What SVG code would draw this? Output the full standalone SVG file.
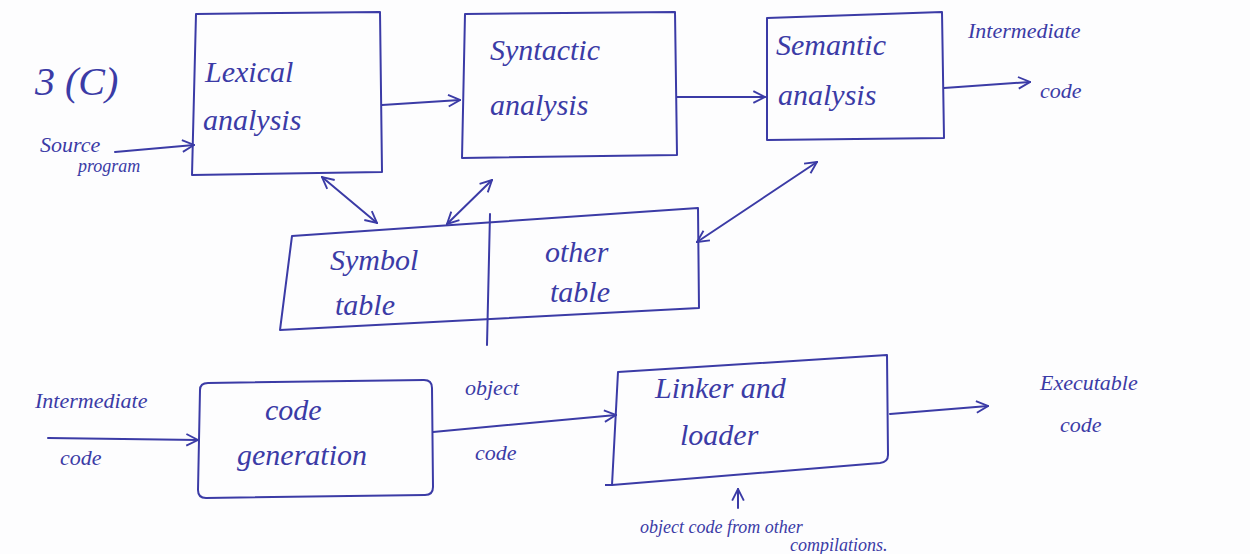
<svg xmlns="http://www.w3.org/2000/svg" width="1250" height="554" viewBox="0 0 1250 554">
<style>
.box{fill:none;stroke:#3b3ba6;stroke-width:2;stroke-linejoin:round}
.ln{fill:none;stroke:#3b3ba6;stroke-width:2;stroke-linecap:round}
text{font-family:"Liberation Serif",serif;font-style:italic;fill:#3b3ba6;font-size:30px}
.sm{font-size:22px}
.xs{font-size:18px}
</style>
<defs>
<marker id="ah" viewBox="0 0 12 12" refX="11" refY="6" markerWidth="14" markerHeight="14" markerUnits="userSpaceOnUse" orient="auto-start-reverse">
<path d="M1,1 L11,6 L1,11" fill="none" stroke="#3b3ba6" stroke-width="1.6"/>
</marker>
</defs>
<rect width="1250" height="554" fill="#fdfdfe"/>
<text x="35" y="95" style="font-size:40px">3 (C)</text>
<g id="lexical">
<path class="box" d="M196,14 L380,12 L382,172 L192,175 Z"/>
<text x="205" y="82">Lexical</text>
<text x="203" y="130">analysis</text>
</g>
<g id="syntactic">
<path class="box" d="M465,14 L675,12 L677,155 L462,158 Z"/>
<text x="490" y="60">Syntactic</text>
<text x="490" y="115">analysis</text>
</g>
<g id="semantic">
<path class="box" d="M767,18 L942,12 L944,138 L767,140 Z"/>
<text x="776" y="55">Semantic</text>
<text x="778" y="105">analysis</text>
</g>
<g id="tables">
<path class="box" d="M292,236 L698,208 L699,308 L280,330 Z"/>
<path class="ln" d="M490,214 L487,345"/>
<text x="330" y="270">Symbol</text>
<text x="335" y="315">table</text>
<text x="545" y="262">other</text>
<text x="550" y="302">table</text>
</g>
<g id="codegen">
<path class="box" d="M208,383 Q200,383 200,390 L198,490 Q198,498 206,498 L425,495 Q433,495 433,487 L432,388 Q432,380 424,380 Z"/>
<text x="265" y="420">code</text>
<text x="237" y="465">generation</text>
</g>
<g id="linker">
<path class="box" d="M618,372 L887,355 L888,455 Q888,462 880,463 L612,485 L605,485"/>
<path class="ln" d="M618,372 L612,485"/>
<text x="655" y="398">Linker and</text>
<text x="680" y="445">loader</text>
</g>
<g id="labels">
<text x="40" y="152" class="sm">Source</text>
<text x="78" y="172" class="xs">program</text>
<text x="968" y="38" class="sm">Intermediate</text>
<text x="1040" y="98" class="sm">code</text>
<text x="35" y="408" class="sm">Intermediate</text>
<text x="60" y="465" class="sm">code</text>
<text x="465" y="395" class="sm">object</text>
<text x="475" y="460" class="sm">code</text>
<text x="1040" y="390" class="sm">Executable</text>
<text x="1060" y="432" class="sm">code</text>
<text x="640" y="533" class="xs">object code from other</text>
<text x="790" y="551" class="xs">compilations.</text>
</g>
<g id="connectors">
<path class="ln" d="M115,152 L194,145" marker-end="url(#ah)"/>
<path class="ln" d="M382,105 L460,100" marker-end="url(#ah)"/>
<path class="ln" d="M677,97 L765,97" marker-end="url(#ah)"/>
<path class="ln" d="M944,88 L1030,82" marker-end="url(#ah)"/>
<path class="ln" d="M322,177 L377,223" marker-start="url(#ah)" marker-end="url(#ah)"/>
<path class="ln" d="M492,180 L447,224" marker-start="url(#ah)" marker-end="url(#ah)"/>
<path class="ln" d="M817,162 L697,242" marker-start="url(#ah)" marker-end="url(#ah)"/>
<path class="ln" d="M48,438 L198,440" marker-end="url(#ah)"/>
<path class="ln" d="M433,432 L616,415" marker-end="url(#ah)"/>
<path class="ln" d="M890,414 L988,406" marker-end="url(#ah)"/>
<path class="ln" d="M738,508 L738,489" marker-end="url(#ah)"/>
</g>
</svg>
